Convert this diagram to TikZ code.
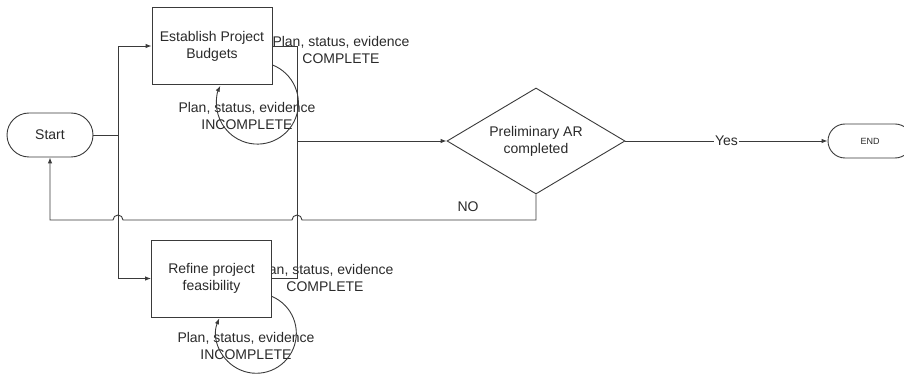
\documentclass[tikz,border=0pt]{standalone}
\usepackage{fontspec}
\setmainfont{Liberation Sans}
\usetikzlibrary{arrows.meta,shapes.geometric}
\definecolor{ln}{HTML}{3A3A3A}
\definecolor{tx}{HTML}{2A2A2A}
\begin{document}
\begin{tikzpicture}[x=1pt,y=1pt,
  every node/.style={text=tx,font=\fontsize{14}{17}\selectfont,align=center},
  conn/.style={draw=ln,line width=0.9pt},
  arr/.style={conn,-{Latex[length=6pt,width=4.5pt]}},
  procbox/.style={draw=ln,line width=0.9pt,fill=white,minimum width=120pt,minimum height=77pt,inner sep=0pt},
  term/.style={draw=ln,line width=0.9pt,fill=white,rounded corners=20pt,inner sep=0pt},
  lbl/.style={inner sep=0pt}]
\useasboundingbox (0,0) rectangle (904,375);
% labels (under boxes)
\node[lbl] (c1) at (341,325) {Plan, status, evidence\\COMPLETE};
\node[lbl] (i1) at (247,259) {Plan, status, evidence\\INCOMPLETE};
\node[lbl] (c2) at (325,97) {Plan, status, evidence\\COMPLETE};
\node[lbl] (i2) at (246,29) {Plan, status, evidence\\INCOMPLETE};
% nodes
\node[term,minimum width=86pt,minimum height=44pt,rounded corners=22pt] (start) at (50,240) {Start};
\node[procbox] (b1) at (212,329) {Establish Project\\Budgets};
\node[procbox] (b2) at (211.5,96.5) {Refine project\\feasibility};
\node[diamond,draw=ln,line width=0.9pt,fill=white,minimum width=178pt,minimum height=106pt,inner sep=0pt,aspect=1.68] (dia) at (536,234) {Preliminary AR\\completed};
\node[term,minimum width=84pt,minimum height=34pt,rounded corners=17pt,font=\fontsize{9}{11}\selectfont] (end) at (870,234) {END};
\coordinate (jA) at (118,240);
\coordinate (jB) at (297,234);
\coordinate (nb) at (536,155);
\coordinate (nl) at (50,155);
% connectors
\draw[conn] (start.east) -- (jA);
\draw[arr] (jA) |- (b1.west);
\draw[arr] (jA) |- (b2.west);
\draw[conn] (b1.east) -| (jB);
\draw[conn] (b2.east) -| (jB);
\draw[arr] (jB) -- (dia.west);
\draw[arr] (dia.east) -- node[fill=white,inner sep=1.5pt] (yes) {Yes} (end.west);
\draw[arr] (dia.south) -- (nb) -- (302,155) arc[start angle=0,end angle=180,radius=5pt] -- (123,155) arc[start angle=0,end angle=180,radius=5pt] -- (nl) -- (start.south);
\node[lbl] (no) at (468,168) {NO};
% loops
\draw[arr] ([yshift=20pt]b1.south east) arc[start angle=68.5,end angle=-205,radius=41pt];
\draw[arr] ([yshift=21pt]b2.south east) arc[start angle=67,end angle=-202,radius=40pt];
\end{tikzpicture}
\end{document}
